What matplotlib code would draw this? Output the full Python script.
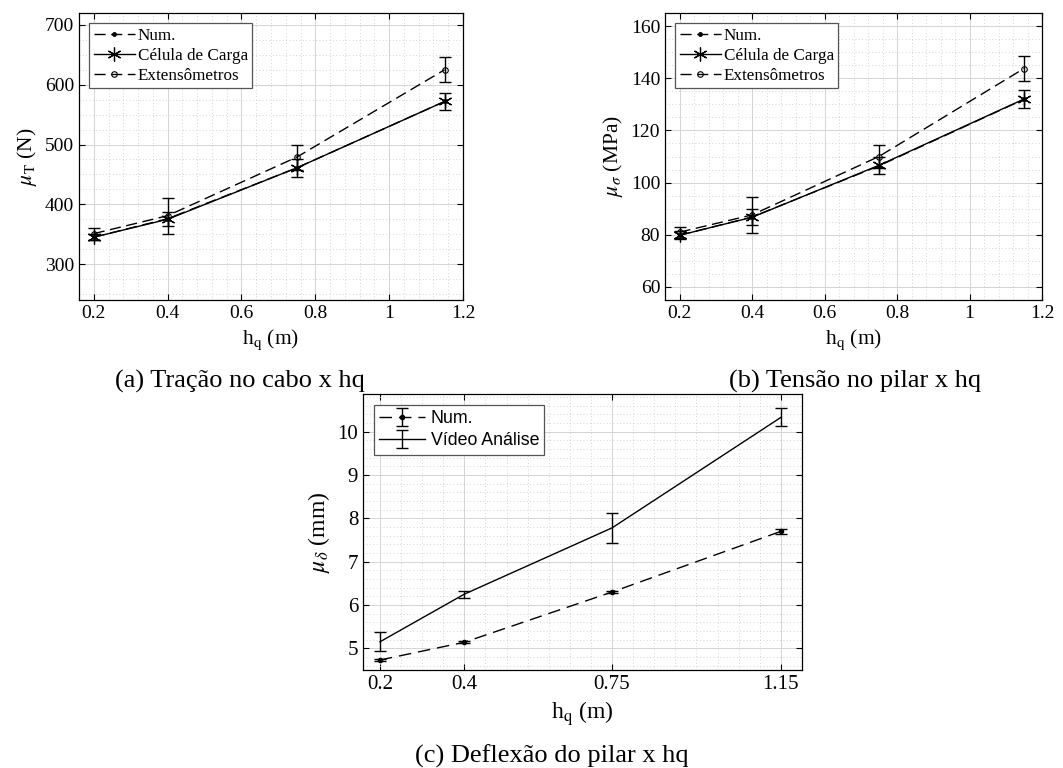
import numpy as np
import matplotlib
matplotlib.use("Agg")
import matplotlib.pyplot as plt
from matplotlib.ticker import MultipleLocator

plt.rcParams['font.family'] = ['Liberation Serif', 'DejaVu Serif']
plt.rcParams['mathtext.fontset'] = 'stix'

# dados
hq = [0.2, 0.4, 0.75, 1.15]

# (a) tracao no cabo
num_T = [345, 376, 461, 572]
cel_T = [345, 375, 461, 572]
cel_T_err = [5, 12, 15, 15]
ext_T = [351, 381, 479, 625]
ext_T_err = [10, 30, 21, 21]

# (b) tensao no pilar
num_s = [79.8, 86.8, 106.4, 131.9]
cel_s = [79.8, 86.7, 106.6, 132.0]
cel_s_err = [1.5, 3.0, 3.3, 3.5]
ext_s = [81.0, 87.6, 110.0, 143.7]
ext_s_err = [2.1, 7.0, 4.4, 4.9]

# (c) deflexao do pilar
num_d = [4.73, 5.14, 6.30, 7.70]
num_d_err = [0.02, 0.02, 0.02, 0.06]
vid_d = [5.15, 6.25, 7.78, 10.33]
vid_d_err = [0.22, 0.08, 0.34, 0.21]

W, H = 1063, 768
fig = plt.figure(figsize=(W / 100, H / 100), dpi=100)


def caixa(l, r, t, b):
    return [l / W, 1 - b / H, (r - l) / W, (b - t) / H]


def estilo(ax, tam):
    ax.grid(True, which='major', color='#d4d4d4', linewidth=0.7)
    ax.grid(True, which='minor', color='#c8c8c8', linestyle=(0, (1, 3)), linewidth=0.6)
    ax.set_axisbelow(True)
    ax.tick_params(which='both', direction='in', top=True, right=True, labelsize=tam)
    ax.tick_params(which='major', length=4)
    ax.tick_params(which='minor', length=0)
    for s in ax.spines.values():
        s.set_linewidth(0.9)


asterisco = (6, 2, 0)
tracos = (8, 4)


def painel_superior(ax, num, cel, cel_err, ext, ext_err):
    ax.plot(hq, num, '--', marker='.', color='k', lw=1, ms=5, dashes=tracos, label='Num.')
    ax.errorbar(hq, cel, yerr=cel_err, fmt='none', ecolor='k', capsize=4, elinewidth=1)
    ax.errorbar(hq, ext, yerr=ext_err, fmt='none', ecolor='k', capsize=4, elinewidth=1)
    ax.plot(hq, cel, '-', marker=asterisco, color='k', lw=1, ms=10, mew=0.9,
            label='Célula de Carga')
    ax.plot(hq, ext, '--', marker='o', mfc='none', color='k', lw=1, ms=4, mew=0.8,
            dashes=tracos, label='Extensômetros')
    ax.set_xlim(0.16, 1.2)
    ax.set_xticks([0.2, 0.4, 0.6, 0.8, 1.0, 1.2])
    ax.set_xticklabels(['0.2', '0.4', '0.6', '0.8', '1', '1.2'])
    ax.xaxis.set_minor_locator(MultipleLocator(0.04))
    ax.set_xlabel(r'h$_\mathrm{q}$ (m)', fontsize=15.5)
    estilo(ax, 14)
    leg = ax.legend(loc='upper left', fontsize=12.3, fancybox=False, framealpha=1,
                    edgecolor='#555555', handlelength=2.4, borderpad=0.25, labelspacing=0.25,
                    handletextpad=0.2, borderaxespad=0.6)
    leg.get_frame().set_linewidth(0.9)


# ---- (a)
ax1 = fig.add_axes(caixa(79, 463, 13, 300))
painel_superior(ax1, num_T, cel_T, cel_T_err, ext_T, ext_T_err)
ax1.set_ylim(240, 720)
ax1.set_yticks([300, 400, 500, 600, 700])
ax1.yaxis.set_minor_locator(MultipleLocator(25))
ax1.set_ylabel(r'$\mu_\mathrm{T}$ (N)', fontsize=15.5)

# ---- (b)
ax2 = fig.add_axes(caixa(665, 1042, 13, 300))
painel_superior(ax2, num_s, cel_s, cel_s_err, ext_s, ext_s_err)
ax2.set_ylim(55, 165)
ax2.set_yticks([60, 80, 100, 120, 140, 160])
ax2.yaxis.set_minor_locator(MultipleLocator(5))
ax2.set_ylabel(r'$\mu_\sigma$ (MPa)', fontsize=15.5)

# ---- (c)
ax3 = fig.add_axes(caixa(363, 802, 394, 670))
ax3.errorbar(hq, num_d, yerr=num_d_err, fmt='--', marker='.', color='k', lw=1, ms=6,
             capsize=4, elinewidth=1, dashes=(9, 5), label='Num.')
ax3.errorbar(hq, vid_d, yerr=vid_d_err, fmt='-', color='k', lw=1,
             capsize=4, elinewidth=1, label='Vídeo Análise')
ax3.set_xlim(0.16, 1.2)
ax3.set_ylim(4.5, 10.87)
ax3.set_xticks(hq)
ax3.set_xticklabels(['0.2', '0.4', '0.75', '1.15'])
ax3.set_yticks([5, 6, 7, 8, 9, 10])
ax3.xaxis.set_minor_locator(MultipleLocator(0.05))
ax3.yaxis.set_minor_locator(MultipleLocator(0.2))
ax3.set_xlabel(r'h$_\mathrm{q}$ (m)', fontsize=17)
ax3.set_ylabel(r'$\mu_\delta$ (mm)', fontsize=17)
estilo(ax3, 15)
leg = ax3.legend(loc='upper left', prop={'family': 'Liberation Sans', 'size': 12.8},
                 fancybox=False, framealpha=1, edgecolor='#555555', handlelength=2.6,
                 borderpad=0.3, labelspacing=0.3, handletextpad=0.3, borderaxespad=0.6)
leg.get_frame().set_linewidth(0.9)

# legendas das figuras
fig.text(240 / W, 1 - 381 / H, '(a) Tração no cabo x hq', ha='center', va='center', fontsize=19)
fig.text(855 / W, 1 - 381 / H, '(b) Tensão no pilar x hq', ha='center', va='center', fontsize=19)
fig.text(552 / W, 1 - 756 / H, '(c) Deflexão do pilar x hq', ha='center', va='center', fontsize=19)

fig.savefig('out.png', dpi=100)
